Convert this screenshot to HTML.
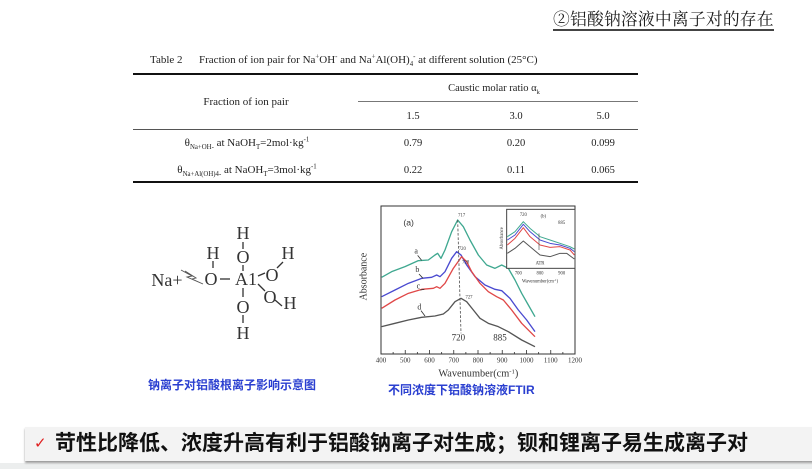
<!DOCTYPE html>
<html><head><meta charset="utf-8">
<style>
html,body{margin:0;padding:0;background:#fff;}
#w{position:relative;width:812px;height:469px;overflow:hidden;background:#fff;font-family:"Liberation Serif","Noto Serif CJK SC",serif;}
.a{position:absolute;white-space:nowrap;}
.tc{transform:translateX(-50%);}
.ser{font-family:"Liberation Serif","Noto Serif CJK SC",serif;color:#222;}
.rule{position:absolute;background:#111;}
sub,sup{font-size:62%;line-height:0;}
</style></head><body>
<div id="w">
 <!-- title -->
 <div class="a" style="left:553px;top:7px;font-family:'Noto Serif CJK SC','Liberation Serif',serif;font-size:16.8px;color:#1a1a1a;letter-spacing:0.2px;line-height:22px;">②铝酸钠溶液中离子对的存在</div>
 <div class="rule" style="left:553px;top:29px;width:221px;height:1.5px;background:#444;"></div>

 <!-- table caption -->
 <div class="a ser" style="left:150px;top:54px;font-size:11px;line-height:13px;">Table 2&nbsp;&nbsp;&nbsp;&nbsp;&nbsp;&nbsp;Fraction of ion pair for Na<sup>+</sup>OH<sup>-</sup> and Na<sup>+</sup>Al(OH)<sub>4</sub><sup>-</sup> at different solution (25°C)</div>
 <div class="rule" style="left:133px;top:73px;width:505px;height:2px;"></div>
 <div class="a ser tc" style="left:494px;top:82px;font-size:10.5px;line-height:13px;">Caustic molar ratio α<sub>k</sub></div>
 <div class="rule" style="left:358px;top:101px;width:280px;height:1px;background:#777;"></div>
 <div class="a ser tc" style="left:246px;top:95px;font-size:11px;line-height:14px;">Fraction of ion pair</div>
 <div class="a ser tc" style="left:413px;top:110px;font-size:10.5px;line-height:13px;">1.5</div>
 <div class="a ser tc" style="left:516px;top:110px;font-size:10.5px;line-height:13px;">3.0</div>
 <div class="a ser tc" style="left:603px;top:110px;font-size:10.5px;line-height:13px;">5.0</div>
 <div class="rule" style="left:133px;top:129px;width:505px;height:1px;background:#555;"></div>
 <div class="a ser tc" style="left:247px;top:137px;font-size:11px;line-height:13px;">θ<sub>Na+OH-</sub> at NaOH<sub>T</sub>=2mol·kg<sup>-1</sup></div>
 <div class="a ser tc" style="left:413px;top:137px;font-size:10.5px;line-height:13px;">0.79</div>
 <div class="a ser tc" style="left:516px;top:137px;font-size:10.5px;line-height:13px;">0.20</div>
 <div class="a ser tc" style="left:603px;top:137px;font-size:10.5px;line-height:13px;">0.099</div>
 <div class="a ser tc" style="left:247px;top:164px;font-size:11px;line-height:13px;">θ<sub>Na+Al(OH)4-</sub> at NaOH<sub>T</sub>=3mol·kg<sup>-1</sup></div>
 <div class="a ser tc" style="left:413px;top:164px;font-size:10.5px;line-height:13px;">0.22</div>
 <div class="a ser tc" style="left:516px;top:164px;font-size:10.5px;line-height:13px;">0.11</div>
 <div class="a ser tc" style="left:603px;top:164px;font-size:10.5px;line-height:13px;">0.065</div>
 <div class="rule" style="left:133px;top:181px;width:505px;height:2px;"></div>

 <svg class="a" style="left:0;top:0" width="812" height="469" viewBox="0 0 812 469">
  <!-- molecule -->
  <g font-family="Liberation Serif, serif" fill="#333" font-size="18" text-anchor="middle">
   <text x="167" y="286">Na+</text>
   <polyline points="181,270 192,276 187,277 203,284 192,279 196,278 185,271" fill="none" stroke="#555" stroke-width="0.9"/>
   <text x="211" y="285">O</text>
   <text x="213" y="259">H</text>
   <line x1="213" y1="261" x2="213" y2="268" stroke="#333" stroke-width="1.3"/>
   <line x1="220" y1="279" x2="230" y2="279" stroke="#333" stroke-width="1.3"/>
   <text x="246" y="285">A1</text>
   <text x="243" y="263">O</text>
   <text x="243" y="239">H</text>
   <line x1="243" y1="242" x2="243" y2="249" stroke="#333" stroke-width="1.3"/>
   <line x1="243" y1="265" x2="243" y2="271" stroke="#333" stroke-width="1.3"/>
   <text x="272" y="281">O</text>
   <text x="288" y="259">H</text>
   <line x1="277" y1="268" x2="283" y2="262" stroke="#333" stroke-width="1.3"/>
   <line x1="258" y1="276" x2="265" y2="273" stroke="#333" stroke-width="1.3"/>
   <text x="270" y="303">O</text>
   <text x="290" y="309">H</text>
   <line x1="258" y1="284" x2="265" y2="291" stroke="#333" stroke-width="1.3"/>
   <line x1="275" y1="300" x2="282" y2="306" stroke="#333" stroke-width="1.3"/>
   <text x="243" y="313">O</text>
   <text x="243" y="339">H</text>
   <line x1="243" y1="288" x2="243" y2="297" stroke="#333" stroke-width="1.3"/>
   <line x1="243" y1="315" x2="243" y2="323" stroke="#333" stroke-width="1.3"/>
  </g>

  <!-- FTIR chart in zoom coords -->
  <g transform="translate(355,200) scale(0.33333)" font-family="Liberation Serif, serif" fill="#333">
   <rect x="78" y="18" width="582" height="444" fill="none" stroke="#333" stroke-width="3"/>
   <g stroke="#333" stroke-width="2.5">
    <line x1="150.75" y1="462" x2="150.75" y2="450"/>
    <line x1="223.5" y1="462" x2="223.5" y2="450"/>
    <line x1="296.25" y1="462" x2="296.25" y2="450"/>
    <line x1="369" y1="462" x2="369" y2="450"/>
    <line x1="441.75" y1="462" x2="441.75" y2="450"/>
    <line x1="514.5" y1="462" x2="514.5" y2="450"/>
    <line x1="587.25" y1="462" x2="587.25" y2="450"/>
    <line x1="114.4" y1="462" x2="114.4" y2="456"/>
    <line x1="187.1" y1="462" x2="187.1" y2="456"/>
    <line x1="259.9" y1="462" x2="259.9" y2="456"/>
    <line x1="332.6" y1="462" x2="332.6" y2="456"/>
    <line x1="405.4" y1="462" x2="405.4" y2="456"/>
    <line x1="478.1" y1="462" x2="478.1" y2="456"/>
    <line x1="550.9" y1="462" x2="550.9" y2="456"/>
    <line x1="623.6" y1="462" x2="623.6" y2="456"/>
   </g>
   <g font-size="21" text-anchor="middle">
    <text x="78" y="487">400</text><text x="150.75" y="487">500</text><text x="223.5" y="487">600</text>
    <text x="296.25" y="487">700</text><text x="369" y="487">800</text><text x="441.75" y="487">900</text>
    <text x="514.5" y="487">1000</text><text x="587.25" y="487">1100</text><text x="660" y="487">1200</text>
   </g>
   <text x="370" y="530" font-size="31" text-anchor="middle">Wavenumber(cm<tspan font-size="20" dy="-10">-1</tspan><tspan dy="10">)</tspan></text>
   <text transform="translate(35,230) rotate(-90)" font-size="30" text-anchor="middle">Absorbance</text>

   <g fill="none" stroke-width="4" stroke-linejoin="round">
    <polyline stroke="#3fa890" points="80,232 110,215 150,200 190,182 220,180 240,165 248,160 258,175 270,150 290,95 308,60 325,80 345,120 370,165 395,195 420,205 440,195 460,205 480,240 500,280 520,315 540,350"/>
    <polyline stroke="#4a4ad0" points="80,290 120,270 160,250 200,235 230,232 245,225 255,230 270,215 290,175 305,155 318,165 335,195 360,230 390,255 420,268 440,272 465,295 490,330 515,360 540,395"/>
    <polyline stroke="#e04848" points="80,325 120,300 160,280 200,268 235,265 245,260 255,265 270,250 295,205 320,170 335,185 350,215 375,250 400,275 425,290 445,300 470,330 500,370 540,410"/>
    <polyline stroke="#555" points="80,380 120,370 160,360 200,352 240,348 265,342 280,330 300,305 318,295 335,305 355,330 375,355 400,370 430,380 460,395 500,420 540,440"/>
   </g>
   <line x1="308" y1="60" x2="318" y2="400" stroke="#555" stroke-width="2.5" stroke-dasharray="8,5"/>
   <g font-size="14" text-anchor="middle">
    <text x="320" y="50">717</text><text x="322" y="150">720</text><text x="332" y="190">728</text><text x="342" y="296">727</text>
   </g>
   <g font-size="27" text-anchor="middle">
    <text x="310" y="422">720</text><text x="435" y="422">885</text>
   </g>
   <text x="145" y="76" font-size="26" font-family="Liberation Sans, sans-serif">(a)</text>
   <g font-size="24">
    <text x="178" y="160">a</text><text x="181" y="216">b</text><text x="185" y="266">c</text><text x="187" y="328">d</text>
   </g>
   <g stroke="#333" stroke-width="2.5">
    <line x1="188" y1="166" x2="200" y2="181"/><line x1="192" y1="222" x2="204" y2="235"/>
    <line x1="196" y1="270" x2="208" y2="268"/><line x1="198" y1="332" x2="210" y2="348"/>
   </g>

   <!-- inset -->
   <rect x="455" y="28" width="205" height="177" fill="#fff" stroke="#444" stroke-width="3"/>
   <g fill="none" stroke-width="3" stroke-linejoin="round">
    <polyline stroke="#3fa890" points="457,110 480,95 505,65 525,85 555,110 585,120 615,130 645,140 658,147"/>
    <polyline stroke="#4a4ad0" points="457,120 480,105 505,73 525,95 555,120 585,130 615,135 645,145 658,155"/>
    <polyline stroke="#e04848" points="457,135 480,115 505,83 525,110 555,135 585,142 615,140 645,150 658,165"/>
    <polyline stroke="#555" points="457,160 480,145 505,123 525,140 555,165 585,170 615,160 635,160 658,177"/>
   </g>
   <line x1="552" y1="100" x2="552" y2="150" stroke="#555" stroke-width="2"/>
   <g font-size="14" text-anchor="middle">
    <text x="505" y="48">720</text><text x="565" y="52">(b)</text><text x="620" y="72">885</text>
    <text x="555" y="194">ATR</text>
    <text x="490" y="224">700</text><text x="555" y="224">800</text><text x="620" y="224">900</text>
    <text x="555" y="248">Wavenumber(cm<tspan font-size="9" dy="-5">-1</tspan><tspan dy="5">)</tspan></text>
    <text transform="translate(444,115) rotate(-90)">Absorbance</text>
   </g>
  </g>
 </svg>

 <div class="a" style="left:148px;top:377px;font-family:'Liberation Sans','Noto Sans CJK SC',sans-serif;font-weight:bold;font-size:12px;line-height:16px;color:#2a3fd0;">钠离子对铝酸根离子影响示意图</div>
 <div class="a" style="left:388px;top:382px;font-family:'Liberation Sans','Noto Sans CJK SC',sans-serif;font-weight:bold;font-size:12px;line-height:16px;color:#2a3fd0;">不同浓度下铝酸钠溶液FTIR</div>

 <!-- bottom banner -->
 <div class="a" style="left:0;top:463px;width:812px;height:6px;background:#eceeee;"></div>
 <div class="a" style="left:25px;top:427px;width:800px;height:34px;background:#f3f3f3;box-shadow:0 2px 2px #9a9a9a;"></div>
 <div class="a" style="left:34px;top:432px;font-family:'DejaVu Sans',sans-serif;font-size:15px;line-height:22px;color:#e02020;">✓</div>
 <div class="a" style="left:55px;top:430px;font-family:'Liberation Sans','Noto Sans CJK SC',sans-serif;font-weight:bold;font-size:21px;line-height:28px;color:#111;">苛性比降低、浓度升高有利于铝酸钠离子对生成；钡和锂离子易生成离子对</div>
</div>
</body></html>
